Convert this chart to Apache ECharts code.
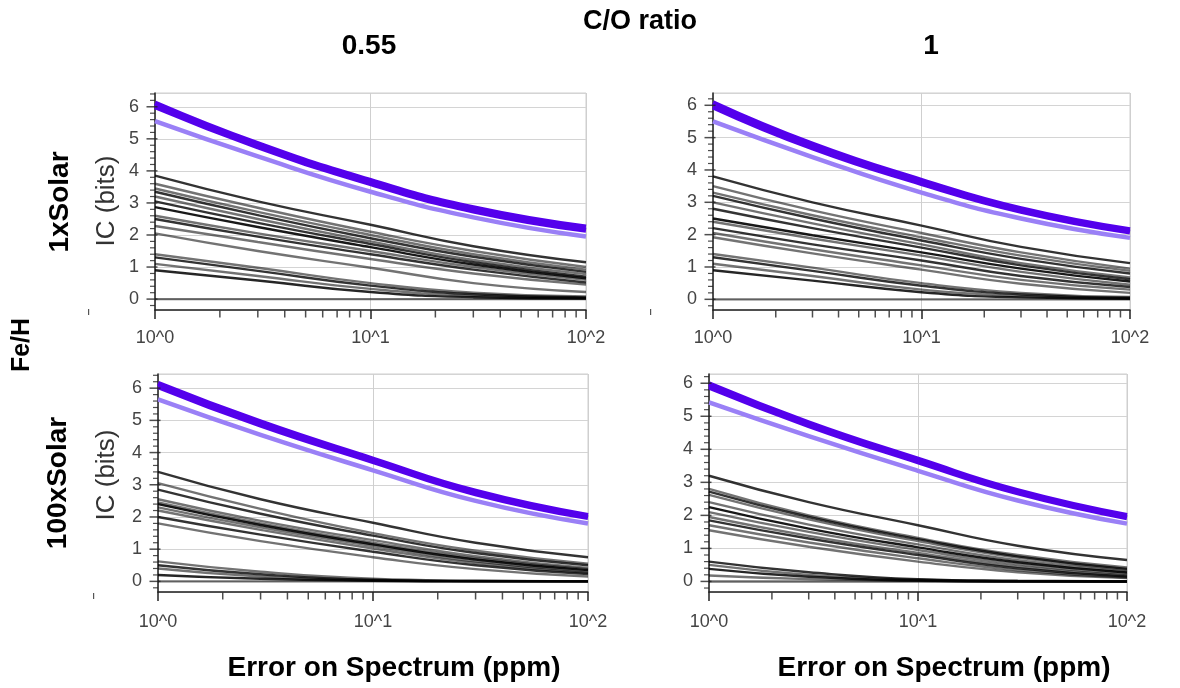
<!DOCTYPE html>
<html><head><meta charset="utf-8">
<script src="https://cdn.jsdelivr.net/npm/echarts@6/dist/echarts.min.js"></script>
<style>html,body{margin:0;padding:0;background:#fff}#c{width:1180px;height:688px}</style>
</head><body><div id="c"></div>
<script>
// ---------- DATA ----------
const xPoints = [1, 3, 10, 30, 100];
const xTickLabels = ['10^0', '10^1', '10^2'];
const xMinorTicks = [2, 3, 4, 5, 6, 7, 8, 9, 20, 30, 40, 50, 60, 70, 80, 90];
const yMajorTicks = [0, 1, 2, 3, 4, 5, 6];
const yMinorTicks = [-0.2, 0.2, 0.4, 0.6, 0.8, 1.2, 1.4, 1.6, 1.8, 2.2, 2.4, 2.6, 2.8, 3.2, 3.4, 3.6, 3.8, 4.2, 4.4, 4.6, 4.8, 5.2, 5.4, 5.6, 5.8, 6.2, 6.4];
const columnLabels = ['0.55', '1'];
const rowLabels = ['1xSolar', '100xSolar'];
const columnTitle = 'C/O ratio';
const rowTitle = 'Fe/H';
const yTitle = 'IC (bits)';
const xTitle = 'Error on Spectrum (ppm)';

// Panel 1: C/O 0.55, 1xSolar
const p1DarkPurple = [[6.12, 4.85, 3.70, 2.85, 2.25], [6.00, 4.75, 3.60, 2.75, 2.15]];
const p1LightPurple = [5.55, 4.45, 3.35, 2.55, 1.95];
const p1Gray = [
  [3.85, 3.05, 2.32, 1.65, 1.15],
  [3.60, 2.85, 2.10, 1.50, 1.00],
  [3.45, 2.72, 2.00, 1.40, 0.92],
  [3.35, 2.62, 1.90, 1.32, 0.85],
  [3.20, 2.50, 1.80, 1.22, 0.78],
  [3.05, 2.38, 1.72, 1.15, 0.70],
  [2.87, 2.25, 1.62, 1.08, 0.65],
  [2.60, 2.05, 1.50, 1.00, 0.60],
  [2.50, 1.95, 1.40, 0.92, 0.52],
  [2.28, 1.78, 1.25, 0.80, 0.45],
  [2.05, 1.50, 0.98, 0.50, 0.22],
  [1.40, 0.98, 0.50, 0.20, 0.08],
  [1.30, 0.88, 0.42, 0.15, 0.05],
  [1.10, 0.72, 0.32, 0.10, 0.03],
  [0.90, 0.58, 0.22, 0.06, 0.02],
  [0.00, 0.00, 0.00, 0.00, 0.00]
];
// Panel 2: C/O 1, 1xSolar
const p2DarkPurple = [[6.08, 4.80, 3.68, 2.80, 2.15], [5.95, 4.68, 3.58, 2.72, 2.08]];
const p2LightPurple = [5.50, 4.40, 3.30, 2.50, 1.90];
const p2Gray = [
  [3.80, 3.00, 2.28, 1.62, 1.12],
  [3.50, 2.75, 2.05, 1.45, 0.95],
  [3.30, 2.60, 1.92, 1.35, 0.88],
  [3.20, 2.50, 1.82, 1.25, 0.80],
  [3.00, 2.35, 1.70, 1.12, 0.68],
  [2.80, 2.20, 1.60, 1.05, 0.62],
  [2.50, 1.98, 1.45, 0.95, 0.55],
  [2.40, 1.88, 1.35, 0.85, 0.45],
  [2.20, 1.70, 1.20, 0.72, 0.38],
  [2.05, 1.55, 1.05, 0.60, 0.30],
  [1.92, 1.42, 0.92, 0.48, 0.20],
  [1.40, 0.98, 0.50, 0.20, 0.07],
  [1.30, 0.88, 0.42, 0.15, 0.05],
  [1.10, 0.72, 0.30, 0.10, 0.03],
  [0.90, 0.58, 0.22, 0.06, 0.02],
  [0.00, 0.00, 0.00, 0.00, 0.00]
];
// Panel 3: C/O 0.55, 100xSolar
const p3DarkPurple = [[6.15, 4.95, 3.80, 2.80, 2.05], [6.05, 4.85, 3.72, 2.72, 1.98]];
const p3LightPurple = [5.65, 4.55, 3.45, 2.50, 1.80];
const p3Gray = [
  [3.40, 2.55, 1.82, 1.20, 0.75],
  [3.05, 2.25, 1.50, 0.95, 0.55],
  [2.85, 2.10, 1.42, 0.88, 0.50],
  [2.55, 1.88, 1.28, 0.78, 0.42],
  [2.45, 1.80, 1.20, 0.72, 0.38],
  [2.40, 1.75, 1.15, 0.68, 0.35],
  [2.30, 1.68, 1.10, 0.62, 0.30],
  [2.20, 1.60, 1.02, 0.57, 0.27],
  [2.00, 1.45, 0.92, 0.50, 0.23],
  [1.80, 1.25, 0.75, 0.38, 0.15],
  [0.62, 0.30, 0.08, 0.02, 0.00],
  [0.50, 0.22, 0.05, 0.01, 0.00],
  [0.40, 0.15, 0.03, 0.00, 0.00],
  [0.20, 0.08, 0.02, 0.00, 0.00],
  [0.00, 0.00, 0.00, 0.00, 0.00]
];
// Panel 4: C/O 1, 100xSolar
const p4DarkPurple = [[5.98, 4.80, 3.70, 2.75, 2.00], [5.88, 4.72, 3.62, 2.68, 1.93]];
const p4LightPurple = [5.42, 4.40, 3.35, 2.45, 1.75];
const p4Gray = [
  [3.20, 2.40, 1.70, 1.08, 0.65],
  [2.80, 2.00, 1.32, 0.80, 0.42],
  [2.72, 1.95, 1.28, 0.76, 0.38],
  [2.62, 1.88, 1.22, 0.72, 0.35],
  [2.40, 1.72, 1.12, 0.64, 0.30],
  [2.25, 1.60, 1.03, 0.58, 0.27],
  [2.10, 1.50, 0.95, 0.52, 0.22],
  [1.95, 1.38, 0.86, 0.45, 0.18],
  [1.85, 1.30, 0.80, 0.40, 0.15],
  [1.70, 1.18, 0.70, 0.34, 0.12],
  [1.55, 1.05, 0.60, 0.28, 0.10],
  [0.60, 0.28, 0.07, 0.02, 0.00],
  [0.50, 0.20, 0.05, 0.01, 0.00],
  [0.38, 0.14, 0.03, 0.00, 0.00],
  [0.18, 0.07, 0.02, 0.00, 0.00],
  [0.00, 0.00, 0.00, 0.00, 0.00]
];

// ---------- STYLE / LAYOUT ----------
const shadesA = [0.8, 0.55, 0.55, 0.8, 0.55, 0.8, 0.9, 0.55, 0.8, 0.55, 0.55, 0.55, 0.8, 0.55, 0.85, 0.55];
const shadesB = [0.8, 0.55, 0.8, 0.55, 0.55, 0.9, 0.55, 0.55, 0.8, 0.55, 0.55, 0.8, 0.55, 0.85, 0.55, 0.55];
const panels = [
  {dark: p1DarkPurple, light: p1LightPurple, gray: p1Gray, shades: shadesA, left: 155, top: 93, width: 431, height: 217, yMin: -0.34, yMax: 6.43, labelMargin: 19},
  {dark: p2DarkPurple, light: p2LightPurple, gray: p2Gray, shades: shadesA, left: 713, top: 93, width: 417, height: 217, yMin: -0.33, yMax: 6.38, labelMargin: 19},
  {dark: p3DarkPurple, light: p3LightPurple, gray: p3Gray, shades: shadesB, left: 158, top: 374, width: 430, height: 218, yMin: -0.33, yMax: 6.44, labelMargin: 21},
  {dark: p4DarkPurple, light: p4LightPurple, gray: p4Gray, shades: shadesB, left: 709, top: 374, width: 418, height: 218, yMin: -0.32, yMax: 6.28, labelMargin: 21}
];
const FONT = "'Liberation Sans', Arial, Helvetica, sans-serif";
const AXIS_COLOR = '#222';
const SMOOTH = 0.5;

const grid = [], xAxis = [], yAxis = [], series = [];
const pairs = vals => xPoints.map((x, i) => [x, vals[i]]);

panels.forEach((p, i) => {
  grid.push({left: p.left, top: p.top, width: p.width, height: p.height, show: true, borderColor: '#cfcfcf', borderWidth: 1, containLabel: false});
  xAxis.push({
    type: 'log', logBase: 10, min: 1, max: 100, gridIndex: i,
    axisLine: {show: true, onZero: false, lineStyle: {color: AXIS_COLOR, width: 1.5}},
    axisTick: {show: true, length: 9, lineStyle: {color: AXIS_COLOR, width: 1.5}},
    minorTick: {show: false},
    axisLabel: {formatter: v => xTickLabels[Math.round(Math.log10(v))] || '', fontSize: 18, color: '#444', fontFamily: FONT, margin: p.labelMargin},
    splitLine: {show: true, lineStyle: {color: '#cfcfcf', width: 1}}
  });
  yAxis.push({
    type: 'value', min: p.yMin, max: p.yMax, gridIndex: i,
    axisLine: {show: true, onZero: false, lineStyle: {color: AXIS_COLOR, width: 1.5}},
    axisTick: {show: false},
    axisLabel: {formatter: v => Math.abs(v - Math.round(v)) < 1e-6 ? String(Math.round(v)) : '', fontSize: 18, color: '#444', fontFamily: FONT, margin: 16},
    splitLine: {show: true, lineStyle: {color: '#d4d4d4', width: 1}}
  });
  p.gray.forEach((vals, k) => {
    series.push({
      type: 'line', xAxisIndex: i, yAxisIndex: i, data: pairs(vals), symbol: 'none', smooth: SMOOTH, silent: true,
      lineStyle: {color: 'rgba(0,0,0,' + p.shades[k % p.shades.length] + ')', width: 2.4}, z: 2
    });
  });
  series.push({
    type: 'line', xAxisIndex: i, yAxisIndex: i, data: pairs(p.light), symbol: 'none', smooth: SMOOTH, silent: true,
    lineStyle: {color: '#9a80f6', width: 4.5}, z: 3
  });
  p.dark.forEach(vals => {
    series.push({
      type: 'line', xAxisIndex: i, yAxisIndex: i, data: pairs(vals), symbol: 'none', smooth: SMOOTH, silent: true,
      lineStyle: {color: '#5400ec', width: 5}, z: 4
    });
  });
  series.push({
    type: 'scatter', xAxisIndex: i, yAxisIndex: i, silent: true, clip: false, z: 6,
    data: xMinorTicks.map(v => [v, p.yMin]), symbol: 'rect', symbolSize: [1.5, 7], symbolOffset: [0, 4],
    itemStyle: {color: AXIS_COLOR}
  });
  series.push({
    type: 'scatter', xAxisIndex: i, yAxisIndex: i, silent: true, clip: false, z: 6,
    data: yMajorTicks.map(v => [1, v]), symbol: 'rect', symbolSize: [11, 1.5], symbolOffset: [-3, 0],
    itemStyle: {color: AXIS_COLOR}
  });
  series.push({
    type: 'scatter', xAxisIndex: i, yAxisIndex: i, silent: true, clip: false, z: 6,
    data: yMinorTicks.filter(v => v > p.yMin && v < p.yMax).map(v => [1, v]), symbol: 'rect', symbolSize: [5, 1.2], symbolOffset: [-2.5, 0],
    itemStyle: {color: AXIS_COLOR}
  });
});

const bold = size => ({fontFamily: FONT, fontWeight: 'bold', fontSize: size, fill: '#000', textAlign: 'center', textVerticalAlign: 'middle'});
const graphic = [
  {type: 'text', x: 640, y: 22, style: Object.assign({text: columnTitle}, bold(27))},
  {type: 'text', x: 369, y: 46, style: Object.assign({text: columnLabels[0]}, bold(28))},
  {type: 'text', x: 931, y: 46, style: Object.assign({text: columnLabels[1]}, bold(28))},
  {type: 'text', x: 22, y: 345, rotation: Math.PI / 2, style: Object.assign({text: rowTitle}, bold(25))},
  {type: 'text', x: 60, y: 202, rotation: Math.PI / 2, style: Object.assign({text: rowLabels[0]}, bold(28))},
  {type: 'text', x: 58, y: 483, rotation: Math.PI / 2, style: Object.assign({text: rowLabels[1]}, bold(28))},
  {type: 'text', x: 107, y: 201, rotation: Math.PI / 2, style: {text: yTitle, fontFamily: FONT, fontSize: 26, fill: '#333', textAlign: 'center', textVerticalAlign: 'middle'}},
  {type: 'text', x: 107, y: 475, rotation: Math.PI / 2, style: {text: yTitle, fontFamily: FONT, fontSize: 26, fill: '#333', textAlign: 'center', textVerticalAlign: 'middle'}},
  {type: 'text', x: 394, y: 668, style: Object.assign({text: xTitle}, bold(28))},
  {type: 'text', x: 944, y: 668, style: Object.assign({text: xTitle}, bold(28))},
  {type: 'rect', shape: {x: 88, y: 309, width: 1.2, height: 6}, style: {fill: '#555'}},
  {type: 'rect', shape: {x: 650, y: 309, width: 1.2, height: 6}, style: {fill: '#555'}},
  {type: 'rect', shape: {x: 93, y: 593, width: 1.2, height: 6}, style: {fill: '#555'}}
];

const chart = echarts.init(document.getElementById('c'), null, {renderer: 'canvas'});
chart.setOption({animation: false, backgroundColor: '#fff', grid, xAxis, yAxis, series, graphic});
</script>
</body></html>
